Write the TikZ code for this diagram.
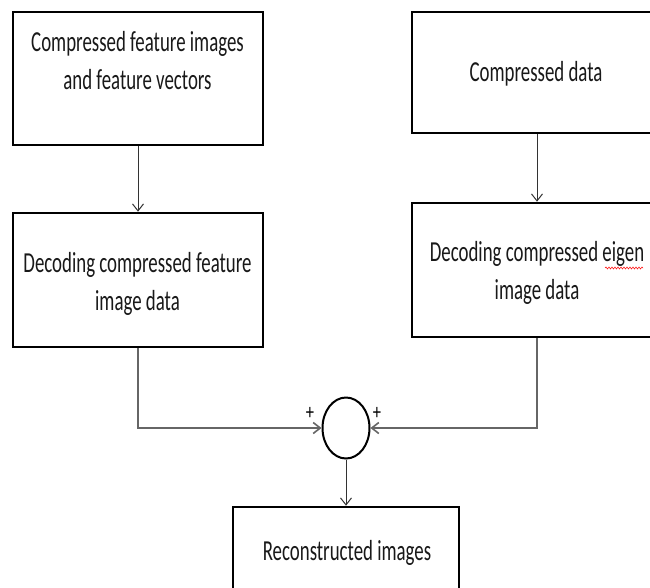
\documentclass[tikz,border=0pt]{standalone}
\usepackage{fontspec}
\setmainfont{Carlito}
\usetikzlibrary{shapes.geometric,decorations.pathmorphing,arrows.meta}

\tikzset{
	block/.style={draw, line width=2.6pt, minimum width=250pt, inner sep=0pt},
	txt/.style={font=\fontsize{29}{38}\selectfont, align=center, inner sep=0pt, xscale=0.65, transform shape, text=black!90},
	plus/.style={font=\fontsize{22}{22}\selectfont, inner sep=0pt, xscale=0.75, transform shape},
	flow/.style={-{Straight Barb[length=7pt,width=11pt]}, line width=1pt, black!80},
	feed/.style={-{Straight Barb[length=7pt,width=11pt]}, line width=1.6pt, black!60},
}

\begin{document}
\begin{tikzpicture}[x=1pt, y=1pt]
		\useasboundingbox[fill=white] (0,0) rectangle (650,-587);
		
		% boxes
		\node[block, minimum height=133pt] (cfi) at (138,-78.5) {};
		\node[block, minimum height=121pt] (cd) at (537,-72.5) {};
		\node[block, minimum height=134pt] (dcf) at (138,-280) {};
		\node[block, minimum height=134pt] (dce) at (537,-270) {};
		\node[block, minimum width=226pt, minimum height=120pt] (rec) at (346,-567) {};
		
		\node[draw, ellipse, line width=2pt, minimum width=47pt, minimum height=61pt, inner sep=0pt] (sum) at (346,-428) {};
		
		% texts
		\node[txt] (cfiT) at (137.5,-61) {Compressed feature images\\and feature vectors};
		\node[txt, anchor=base] (cdT) at (536,-81) {Compressed data};
		\node[txt] (dcfT) at (137.5,-284) {Decoding compressed feature\\image data};
		\node[txt] (dceT) at (537,-273) {Decoding compressed eigen\\image data};
		\node[txt, anchor=base] (recT) at (347,-560) {Reconstructed images};
		
%		\draw [step=10, gray, thin, opacity=0.5] (0,0) grid (650,-587);
		
		% spell check squiggle
		\draw[red, line width=0.5pt, decorate, decoration={snake, amplitude=1pt, segment length=3pt}] (605,-268) -- (643,-268);
		
		% arrows
		\draw[flow] (cfi.south) -- (dcf.north);
		\draw[flow] (cd.south) -- (dce.north);
		\draw[feed] (dcf.south) |- (sum.west);
		\draw[feed] (dce.south) |- (sum.east);
		\draw[flow] (sum.south) -- (rec.north);
		
		\node[plus] (plusL) at (310,-413) {+};
		\node[plus] (plusR) at (377,-413) {+};
	\end{tikzpicture}
\end{document}
